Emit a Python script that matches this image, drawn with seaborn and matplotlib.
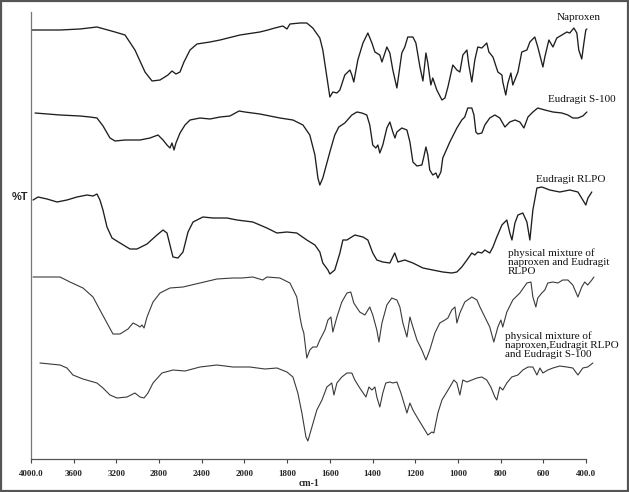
import numpy as np
import pandas as pd
import matplotlib
matplotlib.use("Agg")
import matplotlib.pyplot as plt
from matplotlib.patches import Rectangle
import seaborn as sns

# ---------------- data (wavenumber cm-1, stacked %T in arbitrary offset units) ----------------
naproxen_wn = [3995, 3728, 3541, 3382, 3213, 3119, 3026, 2932, 2866, 2791, 2717, 2679, 2642, 2604,
               2567, 2510, 2445, 2323, 2229, 2042, 1928, 1890, 1858, 1820, 1801, 1787, 1740, 1708,
               1680, 1647, 1633, 1614, 1600, 1586, 1567, 1553, 1530, 1506, 1497, 1488, 1469, 1445,
               1422, 1403, 1389, 1366, 1356, 1333, 1319, 1305, 1286, 1263, 1249, 1235, 1211, 1197,
               1178, 1164, 1150, 1141, 1127, 1118, 1099, 1075, 1061, 1047, 1024, 1005, 991, 977,
               958, 949, 935, 921, 907, 888, 865, 855, 836, 813, 794, 790, 776, 766, 752, 743, 719,
               701, 677, 663, 640, 626, 602, 593, 574, 555, 537, 513, 490, 476, 457, 443, 434, 420,
               410, 401, 396]
naproxen_t = [429, 429, 430, 432, 427, 424, 409, 387, 378, 379, 384, 388, 385, 387,
              397, 409, 415, 417, 419, 424, 427, 429, 431, 433, 430, 435, 436, 436,
              431, 421, 409, 382, 362, 367, 366, 369, 384, 389, 384, 377, 399, 416,
              426, 416, 407, 404, 397, 412, 406, 389, 371, 406, 412, 422, 422, 416,
              392, 378, 406, 396, 374, 381, 369, 359, 361, 372, 394, 389, 387, 404,
              409, 394, 377, 399, 412, 411, 416, 407, 402, 387, 384, 377, 364, 376, 386, 374, 387,
              407, 409, 417, 422, 412, 392, 402, 419, 412, 421, 424, 427, 426, 431, 426, 409, 400,
              416, 429, 430]

s100_wn = [3962, 3728, 3541, 3447, 3382, 3325, 3260, 3213, 3119, 2979, 2885, 2810, 2763, 2726,
           2698, 2679, 2660, 2642, 2604, 2557, 2510, 2417, 2323, 2229, 2136, 2051, 1998, 1928,
           1834, 1773, 1726, 1694, 1670, 1656, 1647, 1633, 1600, 1577, 1558, 1530, 1497, 1473,
           1450, 1427, 1413, 1399, 1385, 1375, 1366, 1352, 1333, 1319, 1305, 1295, 1286, 1263,
           1239, 1225, 1211, 1192, 1169, 1160, 1150, 1141, 1132, 1118, 1103, 1094, 1080, 1071,
           1038, 1005, 982, 968, 954, 935, 925, 916, 907, 888, 874, 851, 827, 804, 780, 757, 733,
           710, 691, 672, 649, 626, 593, 555, 513, 485, 462, 438, 415, 396]
s100_t = [346, 344, 343, 342, 341, 333, 321, 318, 319, 319, 321, 324, 319, 314,
          311, 316, 309, 316, 326, 334, 339, 341, 340, 342, 343, 348, 347, 345,
          341, 339, 334, 324, 304, 281, 274, 281, 307, 324, 332, 336, 344, 347,
          346, 344, 334, 314, 311, 314, 306, 314, 331, 337, 327, 321, 327, 331,
          329, 317, 297, 293, 294, 302, 312, 304, 289, 284, 286, 281, 287, 301,
          317, 331, 339, 342, 351, 351, 344, 327, 325, 326, 334, 341, 344, 341, 332, 337, 339,
          337, 331, 342, 347, 351, 349, 347, 346, 344, 341, 341, 343, 347]

rlpo_wn = [3981, 3934, 3850, 3756, 3663, 3569, 3475, 3419, 3382, 3354, 3326, 3288, 3241, 3166,
           3073, 3007, 2913, 2820, 2763, 2726, 2698, 2670, 2623, 2576, 2529, 2482, 2445, 2389,
           2295, 2164, 2070, 1961, 1895, 1848, 1801, 1755, 1708, 1670, 1647, 1633, 1609, 1600,
           1577, 1553, 1539, 1520, 1483, 1445, 1422, 1399, 1380, 1352, 1319, 1296, 1281, 1249,
           1211, 1164, 1118, 1071, 1029, 1005, 982, 958, 935, 921, 907, 888, 874, 851, 836, 818,
           794, 771, 757, 747, 733, 719, 696, 677, 663, 649, 630, 607, 570, 523, 476, 438, 415,
           401, 391, 373]
rlpo_t = [259, 262, 260, 257, 259, 262, 264, 263, 265, 259, 249, 232, 221, 216,
          210, 210, 215, 224, 229, 226, 214, 202, 201, 207, 227, 237, 239, 242,
          241, 241, 239, 237, 231, 226, 227, 226, 219, 214, 207, 196, 189, 185,
          189, 206, 219, 219, 224, 222, 219, 206, 199, 197, 196, 206, 197, 199,
          196, 191, 189, 187, 186, 187, 192, 199, 206, 204, 207, 206, 209, 206, 212, 222,
          234, 239, 226, 219, 236, 244, 246, 237, 219, 249, 271, 272, 269, 267, 269, 267, 259,
          254, 261, 267]

mix1_wn = [3981, 3728, 3635, 3513, 3419, 3354, 3288, 3232, 3166, 3091, 3044, 3007, 2979, 2960,
           2941, 2913, 2857, 2791, 2698, 2576, 2417, 2258, 2108, 2023, 1961, 1914, 1895, 1834,
           1787, 1755, 1740, 1731, 1722, 1708, 1694, 1680, 1661, 1647, 1623, 1609, 1595, 1586,
           1567, 1544, 1520, 1502, 1488, 1460, 1436, 1413, 1399, 1380, 1370, 1356, 1333, 1310,
           1286, 1272, 1258, 1239, 1225, 1211, 1192, 1169, 1150, 1132, 1108, 1085, 1061, 1047,
           1029, 1014, 1005, 991, 968, 935, 911, 897, 874, 851, 832, 813, 799, 790, 771, 743,
           710, 677, 658, 649, 635, 626, 607, 593, 579, 555, 532, 509, 485, 462, 438, 420, 406,
           392, 373, 363]
mix1_t = [182, 182, 177, 171, 162, 149, 136, 125, 125, 130, 136, 134, 132, 134,
          131, 142, 157, 166, 171, 172, 176, 180, 181, 181, 182, 179, 182, 181,
          176, 162, 142, 132, 126, 101, 109, 112, 112, 119, 129, 139, 142, 127,
          142, 157, 166, 167, 156, 147, 144, 152, 144, 129, 117, 136, 154, 161,
          159, 152, 136, 122, 142, 132, 119, 109, 99, 109, 126, 136, 139, 141,
          149, 152, 136, 146, 157, 162, 159, 152, 142, 132, 117, 132, 139, 132, 147, 159,
          166, 176, 177, 162, 152, 161, 166, 169, 176, 177, 176, 179, 179, 174, 162, 172, 177,
          174, 179, 182]

mix2_wn = [3916, 3728, 3663, 3607, 3513, 3382, 3326, 3260, 3194, 3101, 3026, 2979, 2941, 2904,
           2857, 2773, 2670, 2557, 2417, 2258, 2108, 1975, 1904, 1848, 1801, 1773, 1750, 1731,
           1712, 1703, 1684, 1661, 1637, 1614, 1591, 1581, 1567, 1544, 1520, 1497, 1483, 1460,
           1431, 1417, 1403, 1389, 1380, 1366, 1352, 1338, 1319, 1305, 1286, 1267, 1253, 1239,
           1225, 1211, 1192, 1178, 1155, 1141, 1122, 1113, 1094, 1075, 1052, 1038, 1019, 1005,
           991, 977, 958, 935, 911, 888, 865, 846, 827, 818, 804, 790, 771, 748, 719, 696, 672,
           649, 630, 616, 602, 579, 555, 523, 490, 462, 438, 415, 392, 368]
mix2_t = [96, 94, 91, 84, 80, 76, 71, 64, 61, 62, 66, 62, 61, 66,
          76, 86, 89, 88, 92, 94, 92, 92, 90, 91, 87, 82, 66, 46,
          22, 18, 32, 49, 59, 72, 76, 64, 76, 82, 86, 86, 79, 71,
          62, 72, 69, 72, 62, 52, 66, 76, 77, 76, 77, 66, 56, 46,
          56, 49, 42, 37, 29, 24, 27, 26, 46, 59, 67, 72, 79, 76,
          64, 79, 77, 79, 81, 82, 79, 72, 62, 59, 72, 69, 76, 82, 84, 89, 92,
          92, 84, 91, 86, 89, 91, 93, 92, 91, 84, 91, 92, 96]

spectrum_names = ["Naproxen", "Eudragit S-100", "Eudragit RLPO",
                  "physical mixture of\nnaproxen and Eudragit\nRLPO",
                  "physical mixture of\nnaproxen,Eudragit RLPO\nand Eudragit S-100"]

tick_values = [4000, 3600, 3200, 2800, 2400, 2000, 1800, 1600, 1400, 1200, 1000, 800, 600, 400]
tick_labels = ["4000.0", "3600", "3200", "2800", "2400", "2000", "1800", "1600", "1400",
               "1200", "1000", "800", "600", "400.0"]

# ---------------- figure ----------------
sns.set_theme(style="white")
plt.rcParams["font.family"] = ["Liberation Serif", "DejaVu Serif"]

W, H = 629, 492
fig = plt.figure(figsize=(W / 100, H / 100), dpi=100)
fig.patch.set_facecolor("white")
ax = fig.add_axes([31 / W, 1 - 459 / H, (596.7 - 31) / W, (459 - 12) / H])
ax.set_facecolor("white")

series = [(naproxen_wn, naproxen_t), (s100_wn, s100_t), (rlpo_wn, rlpo_t),
          (mix1_wn, mix1_t), (mix2_wn, mix2_t)]
styles = [("#1e1e1e", 0.95), ("#1e1e1e", 0.95), ("#1e1e1e", 0.95),
          ("#3a3a3a", 0.8), ("#3a3a3a", 0.8)]
for (wn, t), (c, lw) in zip(series, styles):
    df = pd.DataFrame({"wavenumber": wn, "T": t})
    sns.lineplot(data=df, x="wavenumber", y="T", ax=ax, sort=False, estimator=None,
                 color=c, linewidth=lw)


# split-scale wavenumber axis: 400 cm-1 per division above 2000, 200 cm-1 per division below
def fwd(w):
    w = np.asarray(w, dtype=float)
    return np.where(w >= 2000, (w - 4000) / 400.0, -5 + (w - 2000) / 200.0)


def inv(p):
    p = np.asarray(p, dtype=float)
    return np.where(p >= -5, 4000 + 400.0 * p, 2000 + 200.0 * (p + 5))


ax.set_xscale("function", functions=(fwd, inv))
ax.set_xlim(350, 4000)
if not ax.xaxis_inverted():
    ax.invert_xaxis()
ax.set_ylim(0, 447)
ax.set_xticks(tick_values)
ax.set_xticklabels(tick_labels, fontsize=6.5, fontweight="bold")
ax.minorticks_off()
ax.set_yticks([])
ax.tick_params(axis="x", direction="out", length=3, width=0.8, color="#444",
               pad=5, bottom=True)

for s in ["top", "right"]:
    ax.spines[s].set_visible(False)
ax.spines["bottom"].set_bounds(400, 4000)
ax.spines["bottom"].set_color("#555")
ax.spines["left"].set_color("#777")
ax.spines["bottom"].set_linewidth(0.9)
ax.spines["left"].set_linewidth(0.9)

ax.set_xlabel("cm-1", fontsize=7, fontweight="bold", va="top")
ax.xaxis.set_label_coords((309 - 31) / 565.7, (459 - 479) / 447)
ax.set_ylabel("%T", rotation=0, fontsize=8, fontweight="bold",
              family=["Liberation Sans", "DejaVu Sans"], ha="center", va="center")
ax.yaxis.set_label_coords((20 - 31) / 565.7, (459 - 197) / 447)

lab_kw = dict(fontsize=8, color="#111", linespacing=1.05)
ax.text(434, 442, spectrum_names[0], ha="center", va="center", **lab_kw)
ax.text(419, 360, spectrum_names[1], ha="center", va="center", **lab_kw)
ax.text(471, 280, spectrum_names[2], ha="center", va="center", **lab_kw)
ax.text(766, 197, spectrum_names[3], ha="left", va="center", **lab_kw)
ax.text(780, 114, spectrum_names[4], ha="left", va="center", **lab_kw)

fig.add_artist(Rectangle((0.0015, 0.002), 0.997, 0.996, transform=fig.transFigure,
                         fill=False, edgecolor="#555", linewidth=1.6))

fig.savefig("out.png", dpi=100, facecolor="white")
